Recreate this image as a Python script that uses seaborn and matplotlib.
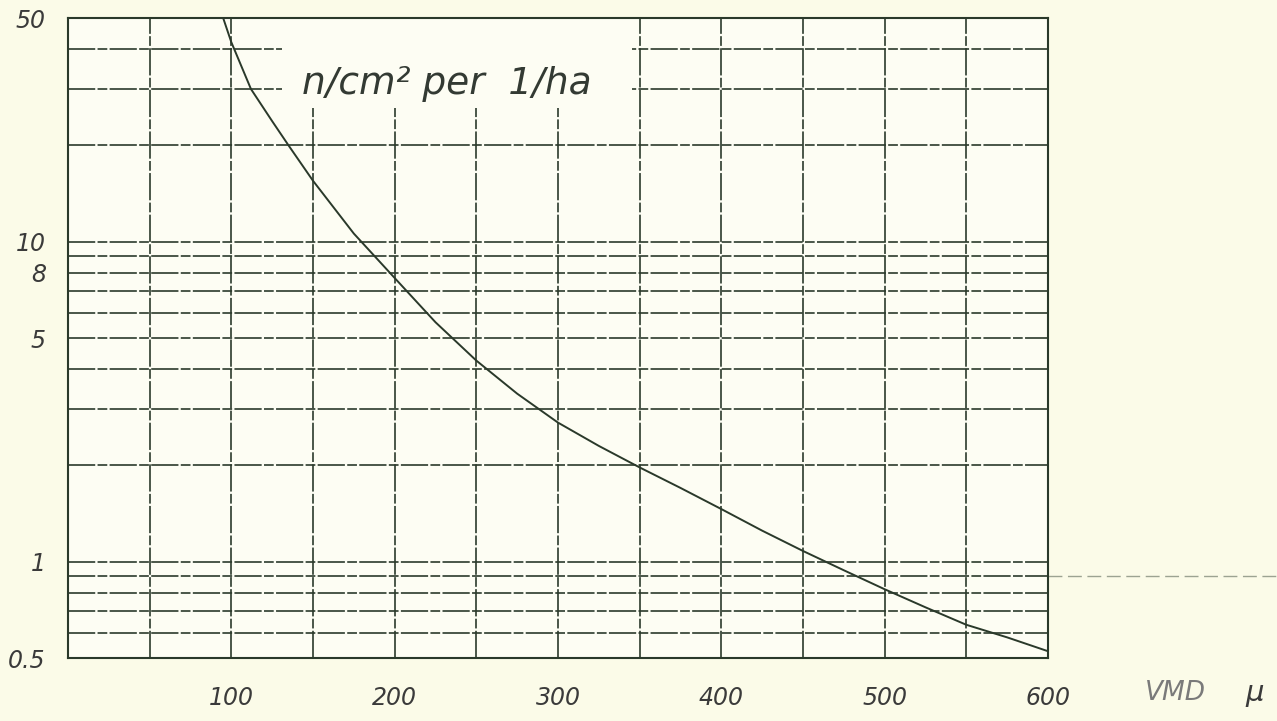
import matplotlib
matplotlib.use("Agg")
import matplotlib.pyplot as plt
import seaborn as sns
import pandas as pd
from matplotlib.patches import Rectangle

# ---- data ----
vmd = [95, 100, 112, 125, 135, 150, 175, 200, 225, 250, 275, 300, 325,
       350, 375, 400, 425, 450, 475, 500, 525, 550, 575, 600]
density = [50, 42, 30, 23.8, 20, 15.5, 10.6, 7.7, 5.6, 4.25, 3.35, 2.72, 2.3,
           1.97, 1.7, 1.46, 1.25, 1.08, 0.94, 0.82, 0.72, 0.635, 0.58, 0.525]

x_grid = [0, 50, 100, 150, 200, 250, 300, 350, 400, 450, 500, 550, 600]
y_grid = [0.5, 0.6, 0.7, 0.8, 0.9, 1, 2, 3, 4, 5, 6, 7, 8, 9, 10, 20, 30, 40, 50]
x_tick_values = [100, 200, 300, 400, 500, 600]
x_tick_labels = ["100", "200", "300", "400", "500", "600"]
y_tick_values = [50, 10, 8, 5, 1, 0.5]
y_tick_labels = ["50", "10", "8", "5", "1", "0.5"]
title_text = "n/cm² per  1/ha"
x_label_name = "VMD"
x_label_unit = "μ"

df = pd.DataFrame({"vmd": vmd, "density": density})

sns.set_theme(style="white")
plt.rcParams["font.family"] = ["DejaVu Sans"]

paper = "#fbfbe8"
inner = "#fdfdf3"
ink = "#2a392a"

fig = plt.figure(figsize=(12.77, 7.21), dpi=100)
fig.patch.set_facecolor(paper)
ax = fig.add_axes([68 / 1277, 1 - 658 / 721, 980 / 1277, 640 / 721])
ax.set_facecolor(inner)
ax.set_yscale("log")
ax.set_xlim(0, 600)
ax.set_ylim(0.5, 50)

dash = (0, (14, 1.2, 5, 1.2))
for v in y_grid:
    ax.axhline(v, color=ink, lw=1.4, ls=dash, alpha=0.85, zorder=1)
for v in x_grid:
    ax.axvline(v, color=ink, lw=1.4, ls=dash, alpha=0.85, zorder=1)

# extension of the 0.9 line past the frame
ax.plot([1.0, 1.234], [0.9, 0.9], transform=ax.get_yaxis_transform(),
        color=ink, lw=1.0, ls=(0, (10, 4)), alpha=0.45, clip_on=False, zorder=1)

# blank box behind the unit text
ax.add_patch(Rectangle((131, 26.2), 345 - 131, 50 - 26.2, facecolor=inner,
                       edgecolor="none", zorder=2))

sns.lineplot(data=df, x="vmd", y="density", ax=ax, color=ink, lw=1.4,
             zorder=3, estimator=None, sort=False)

ax.text(232, 31, title_text, fontsize=27, style="italic", color="#333a33",
        ha="center", va="center", zorder=4)

ax.set_xticks(x_tick_values)
ax.set_xticklabels(x_tick_labels, fontsize=17, style="italic", color="#3a3a3a")
ax.set_yticks(y_tick_values)
ax.set_yticklabels(y_tick_labels, fontsize=17, style="italic", color="#3a3a3a")
ax.yaxis.set_minor_locator(matplotlib.ticker.NullLocator())
ax.tick_params(axis="x", length=0, pad=20)
ax.tick_params(axis="y", length=0, pad=16)
ax.set_xlabel("")
ax.set_ylabel("")
ax.text((1175 - 68) / 980, -(693 - 658) / 640, x_label_name, transform=ax.transAxes,
        fontsize=19, style="italic", color="#7a7a7a", ha="center", va="center")
ax.text((1255 - 68) / 980, -(693 - 658) / 640, x_label_unit, transform=ax.transAxes,
        fontsize=21, style="italic", color="#3a3a3a", ha="center", va="center")

for s in ax.spines.values():
    s.set_color(ink)
    s.set_linewidth(1.5)

fig.savefig("out.png", dpi=100, facecolor=paper)
